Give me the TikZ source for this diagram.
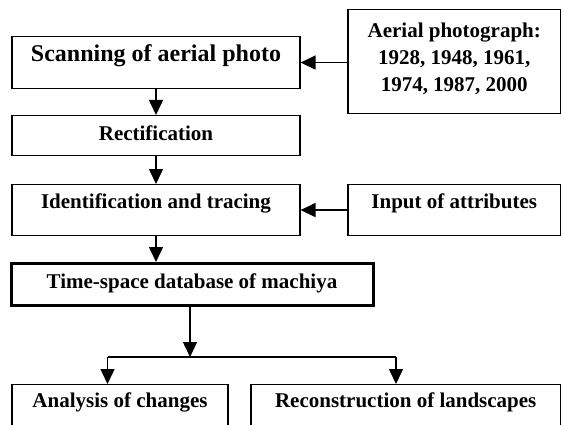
\documentclass[tikz,border=0pt]{standalone}
\usepackage{fontspec}
\setmainfont{Liberation Serif}
\usetikzlibrary{arrows.meta}

\begin{document}
\begin{tikzpicture}[x=1pt,y=-1pt,
	box/.style={draw,line width=1.1pt,inner sep=0pt,anchor=north,font=\fontsize{21}{27}\selectfont\bfseries},
	arr/.style={line width=1.5pt,-{Triangle[length=15pt,width=14pt]}}]

		\useasboundingbox (0,0) rectangle (562,425);

		\node[box,minimum width=288pt,text height=25pt,text depth=27pt,font=\fontsize{24}{28}\selectfont\bfseries] (scan) at (156,36) {Scanning of aerial photo};
		\node[box,minimum width=212.5pt,align=center,text height=82pt,text depth=22pt] (photo) at (454.25,9) {Aerial photograph:\\1928, 1948, 1961,\\1974, 1987, 2000};

		\node[box,minimum width=288pt,text height=25pt,text depth=15pt] (rect) at (156,115) {Rectification};

		\node[box,minimum width=288pt,text height=24pt,text depth=27pt] (ident) at (156,184) {Identification and tracing};
		\node[box,minimum width=212.5pt,text height=24pt,text depth=27pt] (attr) at (454.25,184) {Input of attributes};

		\node[box,line width=3pt,minimum width=362pt,text height=25pt,text depth=17pt] (db) at (192,262) {Time-space database of machiya};

		\node[box,minimum width=216pt,text height=23pt,text depth=44pt] (changes) at (120,384) {Analysis of changes};
		\node[box,minimum width=309.5pt,text height=23pt,text depth=44pt] (recon) at (405.75,384) {Reconstruction of landscapes};

		\coordinate (split) at (190,357);
		\coordinate (splitl) at (107.5,357);
		\coordinate (splitr) at (396,357);

		\draw[arr] (scan.east -| photo.west) -- (scan.east);
		\draw[arr] (scan.south) -- (rect.north);
		\draw[arr] (rect.south) -- (ident.north);
		\draw[arr] (attr.west) -- (ident.east);
		\draw[arr] (ident.south) -- (ident.south |- db.north);

		\draw[arr] (db.south -| split) -- (split);
		\draw[line width=1.5pt] (splitl) -- (splitr);
		\draw[arr] (splitl) -- (splitl |- changes.north);
		\draw[arr] (splitr) -- (splitr |- recon.north);

\end{tikzpicture}
\end{document}
